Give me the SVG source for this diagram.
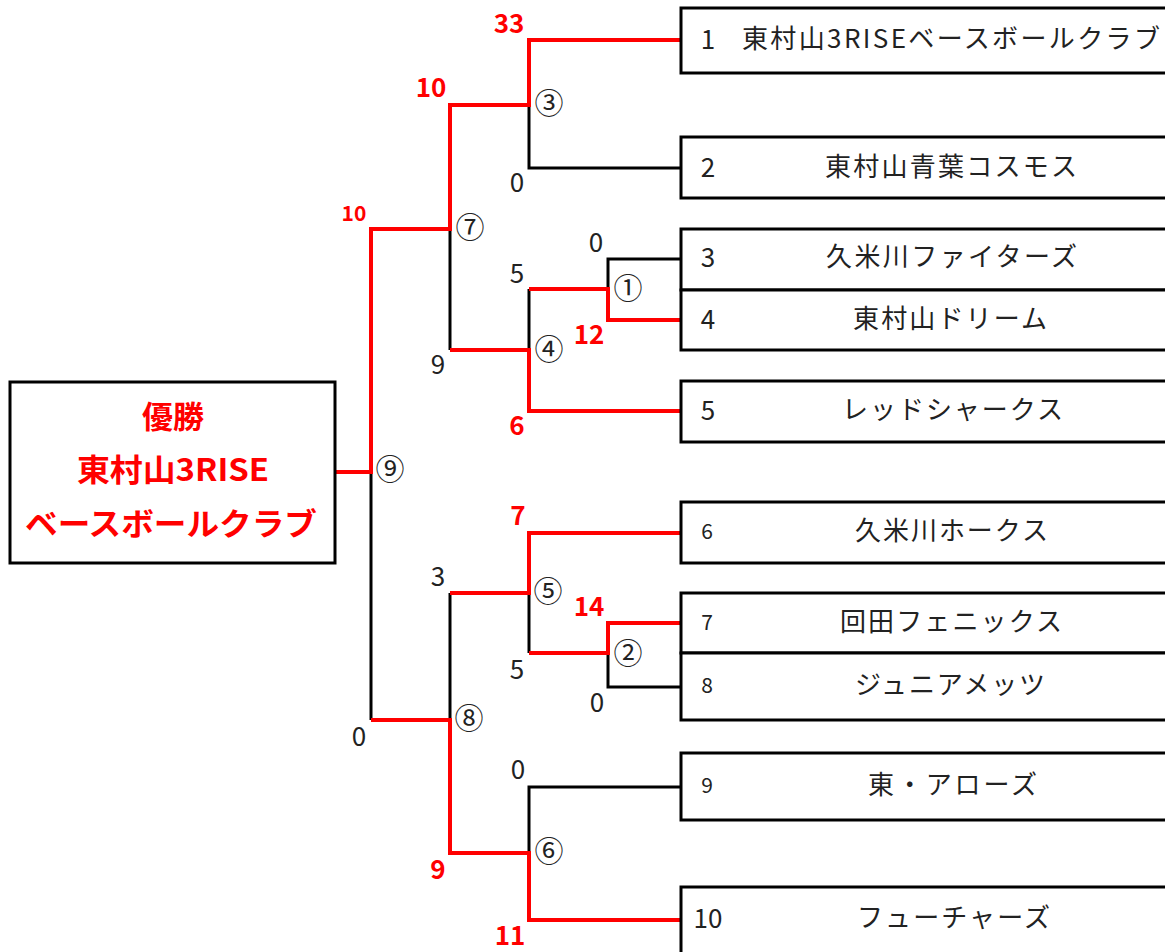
<svg xmlns="http://www.w3.org/2000/svg" width="1165" height="952" viewBox="0 0 1165 952">
<style>
.box{fill:#fff;stroke:#000;stroke-width:3}
.nm{font-family:"Noto Sans CJK JP","Noto Sans",sans-serif;font-size:26px;fill:#222}
.no{font-family:"Noto Sans CJK JP","Noto Sans",sans-serif;font-size:26px;fill:#222;text-anchor:middle}
.nos{font-size:21px}
.sc{font-family:"Noto Sans CJK JP","Noto Sans",sans-serif;font-size:26px;fill:#222;text-anchor:middle}
.scr{font-family:"Noto Sans CJK JP","Noto Sans",sans-serif;font-size:26px;fill:#f00;font-weight:bold;text-anchor:middle}
.cn{font-family:"Noto Sans CJK JP",sans-serif;font-size:29px;fill:#222;text-anchor:middle}
.win{font-family:"Noto Sans CJK JP","Noto Sans",sans-serif;font-size:31px;fill:#f00;font-weight:bold;text-anchor:middle}
.bk{fill:none;stroke:#000;stroke-width:3;stroke-linejoin:miter}
.rd{fill:none;stroke:#f00;stroke-width:4;stroke-linejoin:miter}
</style>
<rect width="1165" height="952" fill="#fff"/>
<g id="connectors">
<path class="bk" d="M529,105 V168 H681"/>
<path class="bk" d="M450,229 V350"/>
<path class="bk" d="M529,289 V350"/>
<path class="bk" d="M608,289 V259 H681"/>
<path class="bk" d="M371,472 V720"/>
<path class="bk" d="M450,593 V720"/>
<path class="bk" d="M529,593 V653"/>
<path class="bk" d="M608,653 V687 H681"/>
<path class="bk" d="M529,853 V787 H681"/>
<path class="rd" d="M681,40 H529 V105 H450 V229 H371 V472 H335"/>
<path class="rd" d="M681,320 H608 V289 H529"/>
<path class="rd" d="M681,411 H529 V350 H450"/>
<path class="rd" d="M681,533 H529 V593 H450"/>
<path class="rd" d="M681,623 H608 V653 H529"/>
<path class="rd" d="M681,920 H529 V853 H450 V720 H371"/>
</g>
<g id="winner">
<rect class="box" x="10" y="382" width="325" height="181"/>
<text class="win" x="173" y="428">優勝</text>
<text class="win" x="173" y="481" textLength="192" lengthAdjust="spacingAndGlyphs">東村山3RISE</text>
<text class="win" x="171" y="535" textLength="292" lengthAdjust="spacingAndGlyphs">ベースボールクラブ</text>
</g>
<g id="team1">
<rect class="box" x="681" y="8" width="500" height="65"/>
<text class="no" x="708" y="49">1</text>
<text class="nm" x="742" y="48" textLength="418">東村山3RISEベースボールクラブ</text>
</g>
<g id="team2">
<rect class="box" x="681" y="137" width="500" height="61"/>
<text class="no" x="708" y="177">2</text>
<text class="nm" x="825" y="176" textLength="252">東村山青葉コスモス</text>
</g>
<g id="team3">
<rect class="box" x="681" y="229" width="500" height="61"/>
<text class="no" x="708" y="267">3</text>
<text class="nm" x="826" y="266" textLength="251">久米川ファイターズ</text>
</g>
<g id="team4">
<rect class="box" x="681" y="290" width="500" height="60"/>
<text class="no" x="708" y="329">4</text>
<text class="nm" x="853" y="328" textLength="194">東村山ドリーム</text>
</g>
<g id="team5">
<rect class="box" x="681" y="381" width="500" height="61"/>
<text class="no" x="708" y="420">5</text>
<text class="nm" x="842" y="419" textLength="221">レッドシャークス</text>
</g>
<g id="team6">
<rect class="box" x="681" y="502" width="500" height="61"/>
<text class="no nos" x="707" y="539">6</text>
<text class="nm" x="855" y="540" textLength="193">久米川ホークス</text>
</g>
<g id="team7">
<rect class="box" x="681" y="593" width="500" height="60"/>
<text class="no nos" x="707" y="630">7</text>
<text class="nm" x="840" y="631" textLength="222">回田フェニックス</text>
</g>
<g id="team8">
<rect class="box" x="681" y="653" width="500" height="67"/>
<text class="no nos" x="707" y="693">8</text>
<text class="nm" x="855" y="694" textLength="190">ジュニアメッツ</text>
</g>
<g id="team9">
<rect class="box" x="681" y="753" width="500" height="67"/>
<text class="no nos" x="707" y="793">9</text>
<text class="nm" x="868" y="794" textLength="169">東・アローズ</text>
</g>
<g id="team10">
<rect class="box" x="681" y="887" width="500" height="80"/>
<text class="no" x="708" y="928">10</text>
<text class="nm" x="857" y="927" textLength="193">フューチャーズ</text>
</g>
<g id="matches">
<text class="cn" x="549" y="114">③</text>
<text class="cn" x="470" y="238">⑦</text>
<text class="cn" x="628" y="299">①</text>
<text class="cn" x="549" y="360">④</text>
<text class="cn" x="390" y="480">⑨</text>
<text class="cn" x="548" y="602">⑤</text>
<text class="cn" x="628" y="664">②</text>
<text class="cn" x="469" y="729">⑧</text>
<text class="cn" x="549" y="862">⑥</text>
</g>
<g id="scores">
<text class="scr" x="509" y="33">33</text>
<text class="scr" x="431" y="97">10</text>
<text class="scr" x="354" y="221" style="font-size:21px">10</text>
<text class="sc" x="517" y="192">0</text>
<text class="sc" x="596" y="252">0</text>
<text class="sc" x="517" y="283">5</text>
<text class="scr" x="589" y="344">12</text>
<text class="sc" x="438" y="374">9</text>
<text class="scr" x="517" y="435">6</text>
<text class="scr" x="518" y="525">7</text>
<text class="sc" x="438" y="586">3</text>
<text class="scr" x="589" y="616">14</text>
<text class="sc" x="517" y="679">5</text>
<text class="sc" x="597" y="712">0</text>
<text class="sc" x="359" y="746">0</text>
<text class="sc" x="518" y="779">0</text>
<text class="scr" x="438" y="879">9</text>
<text class="scr" x="510" y="945">11</text>
</g>
</svg>
